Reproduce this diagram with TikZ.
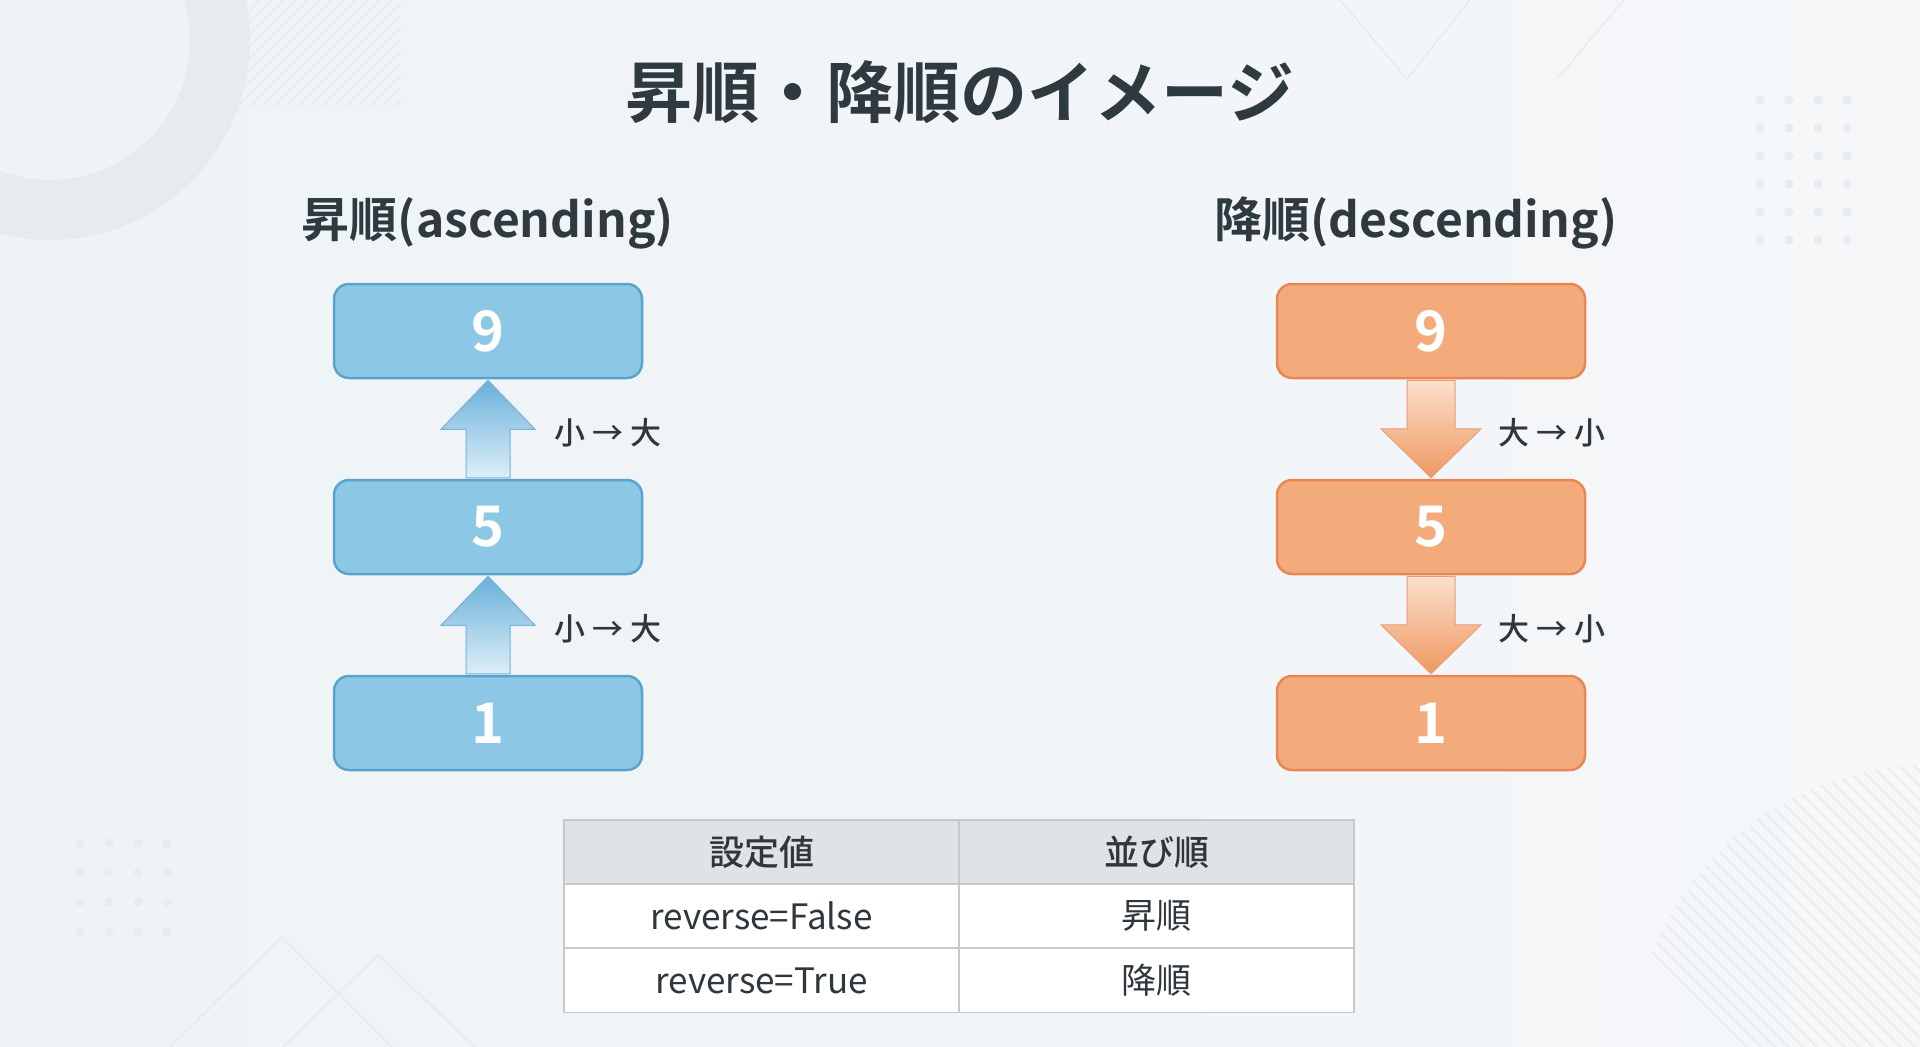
\documentclass[tikz,border=0pt]{standalone}
\usepackage{fontspec}
\setmainfont{Noto Sans CJK JP}[BoldFont={Noto Sans CJK JP Bold}]
\newfontfamily\medfont{Noto Sans CJK JP Medium}
\usetikzlibrary{calc}
\definecolor{bgl}{HTML}{EEF3F6}
\definecolor{bgr}{HTML}{F5F7F9}
\definecolor{deco}{HTML}{E8ECEF}
\definecolor{ring}{HTML}{E7EBEE}
\definecolor{ink}{HTML}{2E3A40}
\definecolor{txt}{HTML}{2F373C}
\definecolor{bfill}{HTML}{8CC8E6}
\definecolor{bline}{HTML}{5AA3CF}
\definecolor{ofill}{HTML}{F4AB7C}
\definecolor{oline}{HTML}{E88754}
\definecolor{thead}{HTML}{DFE3E6}
\definecolor{tline}{HTML}{C5C9CC}
\definecolor{ashadetop}{HTML}{6AB0DA}
\definecolor{ashadebot}{HTML}{DCEFF8}
\definecolor{oshadetop}{HTML}{FBE0CC}
\definecolor{oshadebot}{HTML}{EF9860}
\definecolor{arrb}{HTML}{74B2D8}
\definecolor{arro}{HTML}{EC9C72}
\tikzset{
  numbox/.style={rounded corners=15pt, minimum width=308pt, minimum height=94pt, inner sep=0pt, line width=2.5pt, text=white, font=\bfseries\fontsize{56}{60}\selectfont},
  bluebox/.style={numbox, fill=bfill, draw=bline},
  orangebox/.style={numbox, fill=ofill, draw=oline},
  subttl/.style={text=ink, font=\bfseries\fontsize{48}{56}\selectfont, inner sep=0pt},
  steplabel/.style={text=txt, anchor=west, inner sep=0pt, font=\medfont\fontsize{31}{36}\selectfont},
  cell/.style={draw=tline, line width=1.5pt, minimum width=395pt, minimum height=64pt, inner sep=0pt, text=txt, font=\fontsize{35}{40}\selectfont},
  headcell/.style={cell, fill=thead, font=\medfont\fontsize{35}{40}\selectfont},
  bodycell/.style={cell, fill=white},
  decoline/.style={draw=deco, line width=1.5pt},
  uparrow/.style={draw=arrb, line width=1pt, top color=ashadetop, bottom color=ashadebot},
  downarrow/.style={draw=arro, line width=1pt, top color=oshadetop, bottom color=oshadebot},
}
\begin{document}
\begin{tikzpicture}[x=1pt,y=-1pt]
\useasboundingbox (0,0) rectangle (1920,1047);
\shade[left color=bgl, right color=bgr] (0,0) rectangle (1920,1047);
% background decorations
\fill[ring, even odd rule] (50,40) circle (200pt) (50,40) circle (140pt);
\begin{scope}
  \clip (240,0) rectangle (400,105);
  \foreach \i in {0,...,24} \draw[decoline] (150+\i*12,110) -- ++(130,-130);
\end{scope}
\begin{scope}
  \clip (1930,1065) circle (300pt);
  \foreach \i in {0,...,40} \draw[decoline] (1400+\i*14,700) -- ++(400,400);
\end{scope}
\draw[decoline] (1340,0) -- (1407,79) -- (1470,0);
\draw[decoline] (1624,0) -- (1557,79);
\draw[decoline, line width=2pt] (170,1047) -- (282,937) -- (392,1047);
\draw[decoline, line width=2pt] (283,1047) -- (378,955) -- (475,1047);
\foreach \c in {0,...,3} \foreach \r in {0,...,5} \fill[deco] (1760+\c*29,100+\r*28) circle (4.5pt);
\foreach \c in {0,...,3} \foreach \r in {0,...,3} \fill[deco] (80+\c*29,843+\r*29.5) circle (4.5pt);

% title
\node[text=ink, font=\bfseries\fontsize{67}{76}\selectfont, inner sep=0pt] (title) at (960,92) {昇順・降順のイメージ};
\node[subttl] (sa) at (488,223) {昇順(ascending)};
\node[subttl] (sd) at (1416,223) {降順(descending)};

% boxes
\node[bluebox] (a9) at (488,331) {9};
\node[bluebox] (a5) at (488,527) {5};
\node[bluebox] (a1) at (488,723) {1};
\node[orangebox] (d9) at (1431,331) {9};
\node[orangebox] (d5) at (1431,527) {5};
\node[orangebox] (d1) at (1431,723) {1};

% up arrows (blue)
\foreach \tl/\hd in {a1/a5, a5/a9} {
  \path[uparrow]
    ($(\tl.north)+(-22,-1)$) -- ($(\hd.south)+(-22,50)$) -- ($(\hd.south)+(-47,50)$) --
    ($(\hd.south)+(0,1)$) -- ($(\hd.south)+(47,50)$) -- ($(\hd.south)+(22,50)$) --
    ($(\tl.north)+(22,-1)$) -- cycle;
}
% down arrows (orange)
\foreach \tl/\hd in {d9/d5, d5/d1} {
  \path[downarrow]
    ($(\tl.south)+(-24,1)$) -- ($(\hd.north)+(-24,-50)$) -- ($(\hd.north)+(-50,-50)$) --
    ($(\hd.north)+(0,-1)$) -- ($(\hd.north)+(50,-50)$) -- ($(\hd.north)+(24,-50)$) --
    ($(\tl.south)+(24,1)$) -- cycle;
}
\node[steplabel] (la1) at (554,433) {小 → 大};
\node[steplabel] (la2) at (554,629) {小 → 大};
\node[steplabel] (ld1) at (1498,433) {大 → 小};
\node[steplabel] (ld2) at (1498,629) {大 → 小};

% table
\node[headcell] (h1) at (761.5,852) {設定値};
\node[headcell] (h2) at (1156.5,852) {並び順};
\node[bodycell] (r11) at (761.5,916) {reverse=False};
\node[bodycell] (r12) at (1156.5,916) {昇順};
\node[bodycell] (r21) at (761.5,980.5) {reverse=True};
\node[bodycell] (r22) at (1156.5,980.5) {降順};
\end{tikzpicture}
\end{document}
